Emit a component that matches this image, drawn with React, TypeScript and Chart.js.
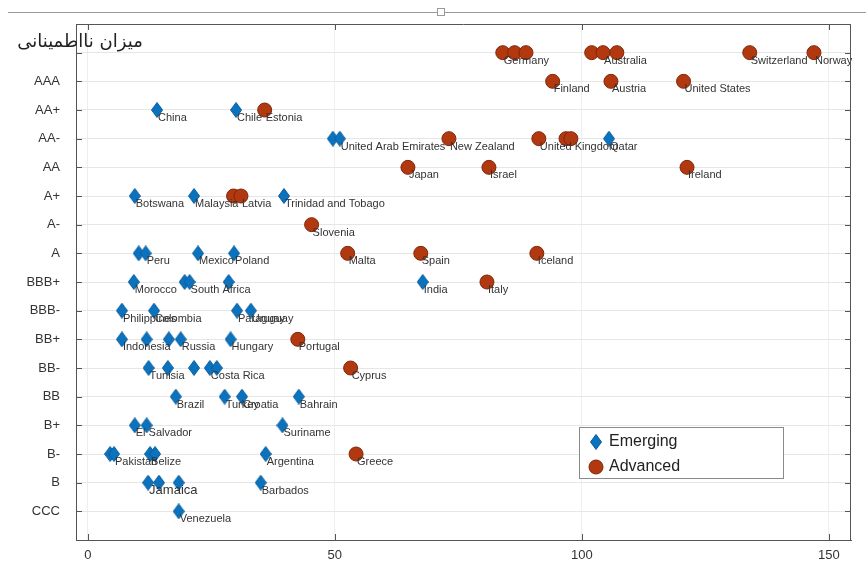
import { useEffect, useRef } from "react";
import { Chart, registerables } from "chart.js";

Chart.register(...registerables);

// Rating levels, bottom to top (top row is unlabeled)
const ratingLabels = ["CCC", "B", "B-", "B+", "BB", "BB-", "BB+", "BBB-", "BBB+", "A", "A-", "A+", "AA", "AA-", "AA+", "AAA", ""];
const xTickValues = [0, 50, 100, 150];

const yTitle = "میزان نااطمینانی";
const legendLabels = ["Emerging", "Advanced"];

// Emerging economies
const emergingNames = [
  "China", "Chile", "", "United Arab Emirates", "Qatar",
  "Botswana", "Malaysia", "Trinidad and Tobago",
  "", "Peru", "Mexico", "Poland",
  "Morocco", "", "South Africa", "", "India",
  "Philippines", "Colombia", "Paraguay", "Uruguay",
  "Indonesia", "", "", "Russia", "Hungary",
  "Tunisia", "", "", "Costa Rica", "",
  "Brazil", "Turkey", "Croatia", "Bahrain",
  "El Salvador", "", "Suriname",
  "", "Pakistan", "Belize", "", "Argentina",
  "Jamaica", "", "", "Barbados",
  "Venezuela",
];
const emergingX = [
  14.0, 30.0, 49.6, 51.0, 105.5,
  9.5, 21.5, 39.7,
  10.3, 11.7, 22.3, 29.6,
  9.3, 19.6, 20.6, 28.5, 67.8,
  6.9, 13.4, 30.2, 33.0,
  6.9, 11.9, 16.4, 18.8, 28.9,
  12.3, 16.2, 21.5, 24.7, 26.1,
  17.8, 27.7, 31.2, 42.7,
  9.5, 11.9, 39.4,
  4.5, 5.3, 12.6, 13.6, 36.0,
  12.2, 14.4, 18.4, 35.0,
  18.4,
];
const emergingRating = [
  "AA+", "AA+", "AA-", "AA-", "AA-",
  "A+", "A+", "A+",
  "A", "A", "A", "A",
  "BBB+", "BBB+", "BBB+", "BBB+", "BBB+",
  "BBB-", "BBB-", "BBB-", "BBB-",
  "BB+", "BB+", "BB+", "BB+", "BB+",
  "BB-", "BB-", "BB-", "BB-", "BB-",
  "BB", "BB", "BB", "BB",
  "B+", "B+", "B+",
  "B-", "B-", "B-", "B-", "B-",
  "B", "B", "B", "B",
  "CCC",
];

// Advanced economies
const advancedNames = [
  "Germany", "", "", "", "Australia", "", "Switzerland", "Norway",
  "Finland", "Austria", "United States",
  "Estonia",
  "New Zealand", "United Kingdom", "", "",
  "Japan", "Israel", "Ireland",
  "", "Latvia",
  "Slovenia",
  "Malta", "Spain", "Iceland",
  "Italy",
  "Portugal",
  "Cyprus",
  "Greece",
];
const advancedX = [
  84.0, 86.4, 88.7, 102.0, 104.3, 107.1, 134.0, 147.0,
  94.1, 105.9, 120.6,
  35.8,
  73.1, 91.3, 96.8, 97.8,
  64.8, 81.2, 121.3,
  29.5, 31.0,
  45.3,
  52.6, 67.4, 90.9,
  80.8,
  42.5,
  53.2,
  54.3,
];
const advancedRating = [
  "", "", "", "", "", "", "", "",
  "AAA", "AAA", "AAA",
  "AA+",
  "AA-", "AA-", "AA-", "AA-",
  "AA", "AA", "AA",
  "A+", "A+",
  "A-",
  "A", "A", "A",
  "BBB+",
  "BB+",
  "BB-",
  "B-",
];

const BLUE = "#0b72bd";
const RED = "#b2380f";
const RED_EDGE = "#7e2709";
const FONT = '"Liberation Sans", Arial, sans-serif';

function makeDiamond(w: number, h: number): HTMLCanvasElement {
  const c = document.createElement("canvas");
  c.width = w;
  c.height = h;
  const g = c.getContext("2d")!;
  g.beginPath();
  g.moveTo(w / 2, 0.5);
  g.lineTo(w - 0.5, h / 2);
  g.lineTo(w / 2, h - 0.5);
  g.lineTo(0.5, h / 2);
  g.closePath();
  g.fillStyle = BLUE;
  g.fill();
  g.strokeStyle = "#0a5f9e";
  g.lineWidth = 1;
  g.stroke();
  return c;
}

export default function App() {
  const ref = useRef<HTMLCanvasElement | null>(null);

  useEffect(() => {
    if (!ref.current) return;
    const diamond = makeDiamond(12, 16);

    const emergingData = emergingX.map((x, i) => ({ x, y: ratingLabels.indexOf(emergingRating[i]) }));
    const advancedData = advancedX.map((x, i) => ({ x, y: ratingLabels.indexOf(advancedRating[i]) }));

    const labelPlugin = {
      id: "pointLabels",
      afterDatasetsDraw(chart: any) {
        const ctx = chart.ctx;
        ctx.save();
        ctx.fillStyle = "#333";
        ctx.textAlign = "left";
        ctx.textBaseline = "middle";
        chart.data.datasets.forEach((ds: any, di: number) => {
          const meta = chart.getDatasetMeta(di);
          meta.data.forEach((el: any, i: number) => {
            const name = ds.names[i];
            if (!name) return;
            ctx.font = (name === "Jamaica" ? "13px " : "11px ") + FONT;
            ctx.fillText(name, el.x + 1, el.y + 8);
          });
        });
        ctx.restore();
      },
    };

    const framePlugin = {
      id: "frame",
      afterDraw(chart: any) {
        const ctx = chart.ctx;
        const a = chart.chartArea;
        const xs = chart.scales.x;
        const ys = chart.scales.y;
        ctx.save();
        ctx.strokeStyle = "#555";
        ctx.lineWidth = 1;
        // top & right frame
        ctx.beginPath();
        ctx.moveTo(a.left, a.top + 0.5);
        ctx.lineTo(a.right, a.top + 0.5);
        ctx.moveTo(a.right - 0.5, a.top);
        ctx.lineTo(a.right - 0.5, a.bottom);
        ctx.stroke();
        // inward ticks
        ctx.beginPath();
        ratingLabels.forEach((_, i) => {
          const y = Math.round(ys.getPixelForValue(i)) + 0.5;
          ctx.moveTo(a.left, y);
          ctx.lineTo(a.left + 6, y);
          ctx.moveTo(a.right, y);
          ctx.lineTo(a.right - 6, y);
        });
        xTickValues.forEach((v) => {
          const x = Math.round(xs.getPixelForValue(v)) + 0.5;
          ctx.moveTo(x, a.bottom);
          ctx.lineTo(x, a.bottom - 6);
          ctx.moveTo(x, a.top);
          ctx.lineTo(x, a.top + 6);
        });
        ctx.stroke();

        // window decoration line at the top
        ctx.strokeStyle = "#9a9a9a";
        ctx.beginPath();
        ctx.moveTo(8, 12.5);
        ctx.lineTo(866, 12.5);
        ctx.stroke();
        ctx.fillStyle = "#fff";
        ctx.fillRect(437, 8, 8, 8);
        ctx.strokeRect(437.5, 8.5, 7, 7);

        // y title at top-left
        ctx.fillStyle = "#222";
        ctx.font = '18px "DejaVu Sans", sans-serif';
        ctx.textAlign = "center";
        ctx.textBaseline = "middle";
        ctx.fillText(yTitle, 80, 42);

        // legend box
        const lx = 579, ly = 427, lw = 204, lh = 51;
        ctx.fillStyle = "#fff";
        ctx.fillRect(lx, ly, lw, lh);
        ctx.strokeStyle = "#8a8a8a";
        ctx.strokeRect(lx + 0.5, ly + 0.5, lw, lh);
        ctx.drawImage(diamond, 590, 434);
        ctx.beginPath();
        ctx.arc(596, 467, 7, 0, Math.PI * 2);
        ctx.fillStyle = RED;
        ctx.fill();
        ctx.strokeStyle = RED_EDGE;
        ctx.stroke();
        ctx.fillStyle = "#222";
        ctx.font = "16px " + FONT;
        ctx.textAlign = "left";
        ctx.fillText(legendLabels[0], 609, 442);
        ctx.fillText(legendLabels[1], 609, 467);
        ctx.restore();
      },
    };

    const chart = new Chart(ref.current, {
      type: "scatter",
      data: {
        datasets: [
          {
            label: legendLabels[0],
            data: emergingData,
            pointStyle: diamond,
            pointRadius: 7,
            backgroundColor: BLUE,
            borderColor: BLUE,
            names: emergingNames,
          } as any,
          {
            label: legendLabels[1],
            data: advancedData,
            pointStyle: "circle",
            pointRadius: 7,
            borderWidth: 1,
            backgroundColor: RED,
            borderColor: RED_EDGE,
            names: advancedNames,
          } as any,
        ],
      },
      options: {
        responsive: false,
        animation: false,
        layout: { padding: { top: 24, right: 15, left: 0, bottom: 0 } },
        plugins: {
          legend: { display: false },
          tooltip: { enabled: false },
        },
        scales: {
          x: {
            type: "linear",
            min: -2.4,
            max: 154.5,
            afterBuildTicks: (s: any) => {
              s.ticks = xTickValues.map((v) => ({ value: v }));
            },
            afterFit: (s: any) => {
              s.height = 32;
            },
            grid: { color: "#eeeeee", drawTicks: false },
            border: { color: "#555", width: 1 },
            ticks: { padding: 8, color: "#333", font: { family: FONT, size: 13 } },
          },
          y: {
            type: "linear",
            min: -1,
            max: 17,
            afterBuildTicks: (s: any) => {
              s.ticks = ratingLabels.map((_, i) => ({ value: i }));
            },
            afterFit: (s: any) => {
              s.width = 76;
            },
            grid: { color: "#e6e6e6", drawTicks: false },
            border: { color: "#555", width: 1 },
            ticks: {
              padding: 16,
              color: "#333",
              font: { family: FONT, size: 13 },
              callback: (v: any) => ratingLabels[v] ?? "",
            },
          },
        },
      } as any,
      plugins: [labelPlugin, framePlugin],
    });
    return () => chart.destroy();
  }, []);

  return (
    <div style={{ position: "fixed", left: 0, top: 0, width: 866, height: 572, background: "#fff" }}>
      <canvas ref={ref} width={866} height={572} style={{ display: "block" }} />
    </div>
  );
}
